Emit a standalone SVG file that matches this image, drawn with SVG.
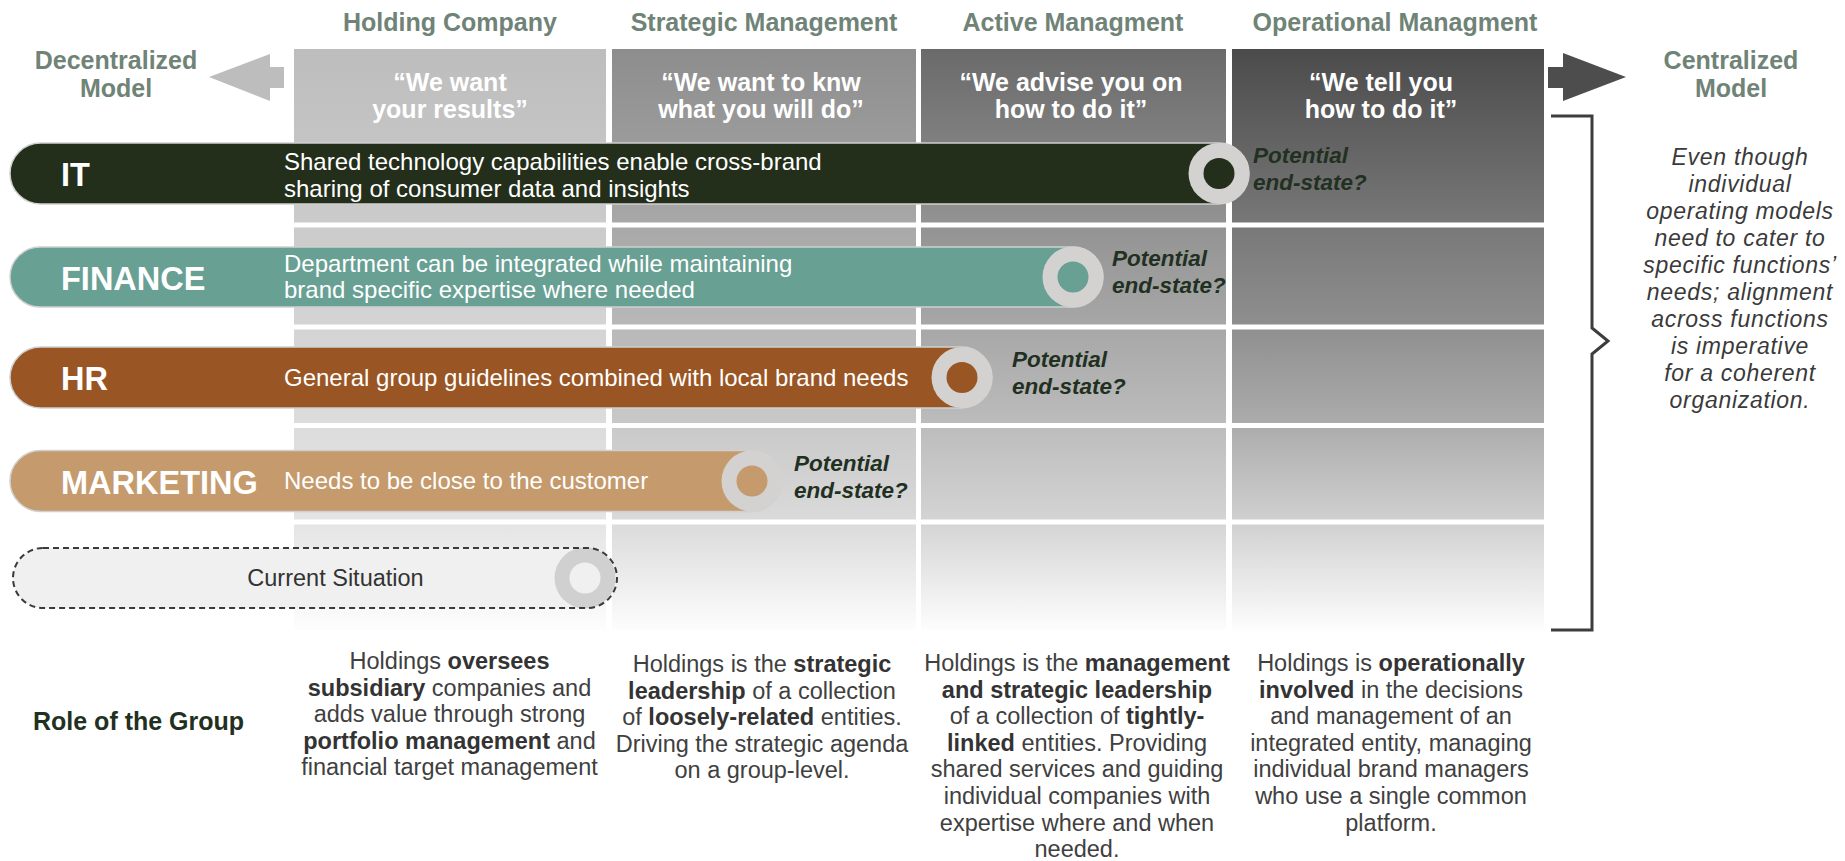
<svg xmlns="http://www.w3.org/2000/svg" width="1845" height="861" viewBox="0 0 1845 861">
  <defs>
    <style>
      text { font-family: "Liberation Sans", Arial, sans-serif; }
      .axis { font-size: 25px; font-weight: bold; fill: #6f8377; }
      .quote { font-size: 25px; font-weight: bold; fill: #ffffff; text-anchor: middle; }
      .label { font-size: 32.5px; font-weight: bold; fill: #ffffff; }
      .desc { font-size: 24px; fill: #ffffff; }
      .pot { font-size: 22.5px; font-weight: bold; font-style: italic; fill: #223022; }
      .note { font-size: 23px; font-style: italic; fill: #3a3a3a; text-anchor: middle; letter-spacing: 0.7px; }
      .role { font-size: 23.5px; fill: #404040; text-anchor: middle; }
      .role tspan.b { font-weight: bold; fill: #333333; }
      .bar { stroke: #d0d0d0; stroke-width: 1.5; }
      .ring { fill: #d3d2d0; }
      .grid-line { fill: #ffffff; }
    </style>
    <linearGradient id="g1" gradientUnits="userSpaceOnUse" x1="0" y1="49" x2="0" y2="630">
      <stop offset="0" stop-color="#bdbdbd"/>
      <stop offset="0.303" stop-color="#cbcbcb"/>
      <stop offset="0.478" stop-color="#d4d4d4"/>
      <stop offset="0.647" stop-color="#dcdcdc"/>
      <stop offset="0.814" stop-color="#e4e4e4"/>
      <stop offset="1" stop-color="#fdfdfd"/>
    </linearGradient>
    <linearGradient id="g2" gradientUnits="userSpaceOnUse" x1="0" y1="49" x2="0" y2="630">
      <stop offset="0" stop-color="#8d8d8d"/>
      <stop offset="0.303" stop-color="#a8a8a8"/>
      <stop offset="0.478" stop-color="#b8b8b8"/>
      <stop offset="0.647" stop-color="#c9c9c9"/>
      <stop offset="0.814" stop-color="#dadada"/>
      <stop offset="1" stop-color="#fdfdfd"/>
    </linearGradient>
    <linearGradient id="g3" gradientUnits="userSpaceOnUse" x1="0" y1="49" x2="0" y2="630">
      <stop offset="0" stop-color="#6a6a6a"/>
      <stop offset="0.303" stop-color="#939393"/>
      <stop offset="0.478" stop-color="#a7a7a7"/>
      <stop offset="0.647" stop-color="#bcbcbc"/>
      <stop offset="0.814" stop-color="#d4d4d4"/>
      <stop offset="1" stop-color="#fdfdfd"/>
    </linearGradient>
    <linearGradient id="g4" gradientUnits="userSpaceOnUse" x1="0" y1="49" x2="0" y2="630">
      <stop offset="0" stop-color="#4b4b4b"/>
      <stop offset="0.303" stop-color="#787878"/>
      <stop offset="0.478" stop-color="#8f8f8f"/>
      <stop offset="0.647" stop-color="#acacac"/>
      <stop offset="0.814" stop-color="#d0d0d0"/>
      <stop offset="1" stop-color="#fdfdfd"/>
    </linearGradient>
  </defs>

  <rect width="1845" height="861" fill="#ffffff"/>

  <!-- axis titles -->
  <g id="axis-titles">
    <text class="axis" x="450" y="31" text-anchor="middle">Holding Company</text>
    <text class="axis" x="764" y="31" text-anchor="middle">Strategic Management</text>
    <text class="axis" x="1073" y="31" text-anchor="middle">Active Managment</text>
    <text class="axis" x="1395" y="31" text-anchor="middle">Operational Managment</text>
    <text class="axis" x="116" y="69" text-anchor="middle">Decentralized</text>
    <text class="axis" x="116" y="97" text-anchor="middle">Model</text>
    <text class="axis" x="1731" y="69" text-anchor="middle">Centralized</text>
    <text class="axis" x="1731" y="97" text-anchor="middle">Model</text>
  </g>

  <!-- maturity grid: four columns fading downwards, split by white rules -->
  <g id="grid">
    <rect x="294" y="49" width="312" height="581" fill="url(#g1)"/>
    <rect x="612" y="49" width="304" height="581" fill="url(#g2)"/>
    <rect x="921" y="49" width="305" height="581" fill="url(#g3)"/>
    <rect x="1232" y="49" width="312" height="581" fill="url(#g4)"/>
    <rect class="grid-line" x="294" y="222.5" width="1250" height="5"/>
    <rect class="grid-line" x="294" y="324.5" width="1250" height="5"/>
    <rect class="grid-line" x="294" y="423" width="1250" height="5"/>
    <rect class="grid-line" x="294" y="519.5" width="1250" height="5"/>
    <text class="quote" x="450" y="91">“We want</text>
    <text class="quote" x="450" y="118">your results”</text>
    <text class="quote" x="761" y="91">“We want to knw</text>
    <text class="quote" x="761" y="118">what you will do”</text>
    <text class="quote" x="1071" y="91">“We advise you on</text>
    <text class="quote" x="1071" y="118">how to do it”</text>
    <text class="quote" x="1381" y="91">“We tell you</text>
    <text class="quote" x="1381" y="118">how to do it”</text>
  </g>

  <!-- direction arrows and grouping bracket -->
  <g id="connectors">
    <polygon points="209,77 270,54 270,67 284,67 284,88 270,88 270,101" fill="#bdbdbd"/>
    <polygon points="1548,67 1563,67 1563,53 1626,77 1563,101 1563,88 1548,88" fill="#4d4d4d"/>
    <polyline points="1551,116 1592,116 1592,328 1608,341 1592,354 1592,630 1551,630" fill="none" stroke="#3d3d3d" stroke-width="3"/>
  </g>

  <!-- function bars -->
  <g id="it">
    <rect class="bar" x="10" y="143" width="1239" height="61" rx="30.5" fill="#232e1b"/>
    <circle class="ring" cx="1219" cy="173.5" r="30.5"/>
    <circle cx="1219" cy="173.5" r="15.5" fill="#232e1b"/>
    <text class="label" x="61" y="186">IT</text>
    <text class="desc" x="284" y="170">Shared technology capabilities enable cross-brand</text>
    <text class="desc" x="284" y="196.5">sharing of consumer data and insights</text>
    <text class="pot" x="1253" y="163">Potential</text>
    <text class="pot" x="1253" y="190">end-state?</text>
  </g>

  <g id="finance">
    <rect class="bar" x="10" y="247" width="1093" height="60" rx="30" fill="#68a094"/>
    <circle class="ring" cx="1073" cy="277" r="30.5"/>
    <circle cx="1073" cy="277" r="15.5" fill="#68a094"/>
    <text class="label" x="61" y="289.5">FINANCE</text>
    <text class="desc" x="284" y="272">Department can be integrated while maintaining</text>
    <text class="desc" x="284" y="298">brand specific expertise where needed</text>
    <text class="pot" x="1112" y="266">Potential</text>
    <text class="pot" x="1112" y="293">end-state?</text>
  </g>

  <g id="hr">
    <rect class="bar" x="10" y="347" width="982" height="61" rx="30.5" fill="#995624"/>
    <circle class="ring" cx="962" cy="377.5" r="30.5"/>
    <circle cx="962" cy="377.5" r="15.5" fill="#995624"/>
    <text class="label" x="61" y="390">HR</text>
    <text class="desc" x="284" y="386">General group guidelines combined with local brand needs</text>
    <text class="pot" x="1012" y="367">Potential</text>
    <text class="pot" x="1012" y="394">end-state?</text>
  </g>

  <g id="marketing">
    <rect class="bar" x="10" y="450.5" width="772" height="61" rx="30.5" fill="#c59a6c"/>
    <circle class="ring" cx="752" cy="481" r="30.5"/>
    <circle cx="752" cy="481" r="15.5" fill="#c59a6c"/>
    <text class="label" x="61" y="493.5">MARKETING</text>
    <text class="desc" x="284" y="489">Needs to be close to the customer</text>
    <text class="pot" x="794" y="471">Potential</text>
    <text class="pot" x="794" y="498">end-state?</text>
  </g>

  <g id="current-situation">
    <rect x="13" y="548" width="604" height="60" rx="30" fill="#f0f0f0"/>
    <circle cx="585" cy="578" r="30.5" fill="#d0d0d0"/>
    <circle cx="585" cy="578" r="15.5" fill="#f0f0f0"/>
    <rect x="13" y="548" width="604" height="60" rx="30" fill="none" stroke="#3a3a3a" stroke-width="2" stroke-dasharray="6 4"/>
    <text x="335.5" y="586" font-size="23.5" fill="#333333" text-anchor="middle">Current Situation</text>
  </g>

  <!-- side note -->
  <g id="note">
    <text class="note" x="1740" y="165">Even though</text>
    <text class="note" x="1740" y="192">individual</text>
    <text class="note" x="1740" y="219">operating models</text>
    <text class="note" x="1740" y="246">need to cater to</text>
    <text class="note" x="1740" y="273">specific functions’</text>
    <text class="note" x="1740" y="300">needs; alignment</text>
    <text class="note" x="1740" y="327">across functions</text>
    <text class="note" x="1740" y="354">is imperative</text>
    <text class="note" x="1740" y="381">for a coherent</text>
    <text class="note" x="1740" y="408">organization.</text>
  </g>

  <!-- role of the group row -->
  <g id="role-title">
    <text x="33" y="730" font-size="25" font-weight="bold" fill="#223022">Role of the Group</text>
  </g>

  <g id="role-holding">
    <text class="role" x="449.5" y="669">Holdings <tspan class="b">oversees</tspan></text>
    <text class="role" x="449.5" y="695.6"><tspan class="b">subsidiary</tspan> companies and</text>
    <text class="role" x="449.5" y="722.2">adds value through strong</text>
    <text class="role" x="449.5" y="748.8"><tspan class="b">portfolio management</tspan> and</text>
    <text class="role" x="449.5" y="775.4">financial target management</text>
  </g>

  <g id="role-strategic">
    <text class="role" x="762" y="672">Holdings is the <tspan class="b">strategic</tspan></text>
    <text class="role" x="762" y="698.6"><tspan class="b">leadership</tspan> of a collection</text>
    <text class="role" x="762" y="725.2">of <tspan class="b">loosely-related</tspan> entities.</text>
    <text class="role" x="762" y="751.8">Driving the strategic agenda</text>
    <text class="role" x="762" y="778.4">on a group-level.</text>
  </g>

  <g id="role-active">
    <text class="role" x="1077" y="671">Holdings is the <tspan class="b">management</tspan></text>
    <text class="role" x="1077" y="697.6"><tspan class="b">and strategic leadership</tspan></text>
    <text class="role" x="1077" y="724.2">of a collection of <tspan class="b">tightly-</tspan></text>
    <text class="role" x="1077" y="750.8"><tspan class="b">linked</tspan> entities. Providing</text>
    <text class="role" x="1077" y="777.4">shared services and guiding</text>
    <text class="role" x="1077" y="804">individual companies with</text>
    <text class="role" x="1077" y="830.6">expertise where and when</text>
    <text class="role" x="1077" y="857.2">needed.</text>
  </g>

  <g id="role-operational">
    <text class="role" x="1391" y="671">Holdings is <tspan class="b">operationally</tspan></text>
    <text class="role" x="1391" y="697.6"><tspan class="b">involved</tspan> in the decisions</text>
    <text class="role" x="1391" y="724.2">and management of an</text>
    <text class="role" x="1391" y="750.8">integrated entity, managing</text>
    <text class="role" x="1391" y="777.4">individual brand managers</text>
    <text class="role" x="1391" y="804">who use a single common</text>
    <text class="role" x="1391" y="830.6">platform.</text>
  </g>
</svg>
